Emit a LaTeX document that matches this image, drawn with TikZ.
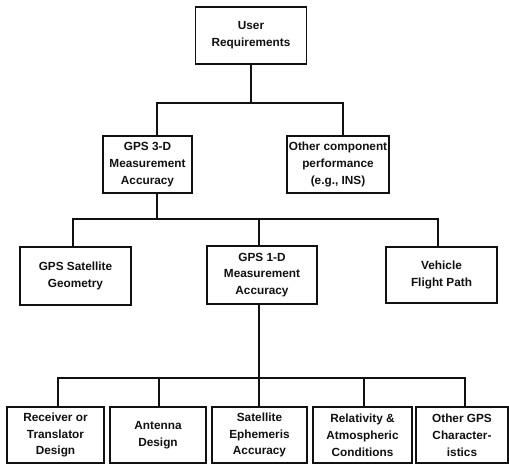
\documentclass[tikz,border=0pt]{standalone}
\usepackage{fontspec}
\setmainfont{Liberation Sans}
\usepackage{tikz}
\usetikzlibrary{positioning,calc}
\definecolor{pen}{HTML}{111111}
\tikzset{
  % --- nodes
  blk/.style   = {draw=pen, line width=1.5pt, fill=white, align=center,
                  inner sep=2pt, minimum height=57, text=pen,
                  font=\fontsize{11.8}{16.8}\selectfont\bfseries},
  % --- edges
  tie/.style   = {draw=pen, line width=1.5pt},
}
\begin{document}
\begin{tikzpicture}[x=1pt,y=-1pt]
  \useasboundingbox (0,0) rectangle (509,464);
  % top
  \node[blk, minimum width=111] (req) at (251,35.5) {User\\Requirements};
  % second row
  \node[blk, minimum width=89]  (gps3d) at (147.5,164.5) {GPS 3-D\\Measurement\\Accuracy};
  \node[blk, minimum width=102] (other) at (338,164.5) {Other component\\performance\\(e.g., INS)};
  % third row
  \node[blk, minimum width=111, minimum height=58] (geom) at (75.5,276) {GPS Satellite\\Geometry};
  \node[blk, minimum width=110, minimum height=58] (gps1d) at (262,275) {GPS 1-D\\Measurement\\Accuracy};
  \node[blk, minimum width=111, minimum height=56] (path) at (441.5,275) {Vehicle\\Flight Path};
  % bottom row
  \node[blk, minimum width=97, minimum height=56] (recv) at (55.5,435) {Receiver or\\Translator\\Design};
  \node[blk, minimum width=96, minimum height=56] (ant)  at (158,435) {Antenna\\Design};
  \node[blk, minimum width=95, minimum height=56] (eph)  at (259.5,435) {Satellite\\Ephemeris\\Accuracy};
  \node[blk, minimum width=99, minimum height=56] (atmo) at (362.5,435) {Relativity \&\\Atmospheric\\Conditions};
  \node[blk, minimum width=92, minimum height=56] (misc) at (462,435) {Other GPS\\Character-\\istics};
  % buses
  \coordinate (bus1) at (251,103);
  \coordinate (bus2) at (157,219);
  \coordinate (bus3) at (259,378);
  \draw[tie] (req.south) -- (bus1);
  \draw[tie] ([xshift=9.5]gps3d.north) |- (bus1) -| ([xshift=5]other.north);
  \draw[tie] ([xshift=9.5]gps3d.south) -- (bus2);
  \draw[tie] ([xshift=-2.5]geom.north) |- (bus2) -| ([xshift=-3.5]path.north);
  \draw[tie] ([xshift=-3]gps1d.north) -- ([xshift=-3]gps1d.north |- bus2);
  \draw[tie] ([xshift=-3]gps1d.south) -- (bus3);
  \draw[tie] ([xshift=2.5]recv.north) |- (bus3) -| ([xshift=3]misc.north);
  \draw[tie] ([xshift=1]ant.north) -- ([xshift=1]ant.north |- bus3);
  \draw[tie] ([xshift=-0.5]eph.north) -- ([xshift=-0.5]eph.north |- bus3);
  \draw[tie] ([xshift=1.5]atmo.north) -- ([xshift=1.5]atmo.north |- bus3);
\end{tikzpicture}
\end{document}
